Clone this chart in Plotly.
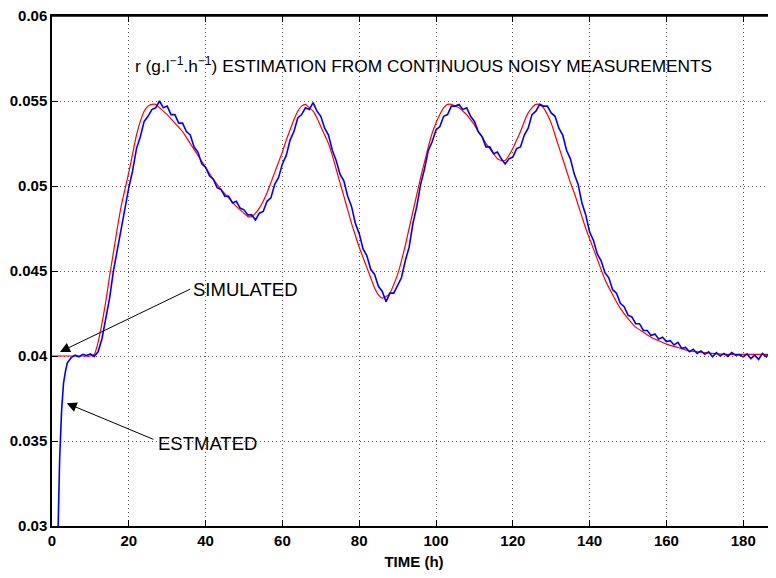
import plotly.graph_objects as go

# ---- data ----
sim_t = [0, 2, 4, 6, 8, 10, 11, 12, 13, 14, 15, 16, 17, 18, 19, 20, 21, 22, 23, 24, 25, 26, 27, 28,
         30, 32, 34, 36, 38, 40, 42, 44, 46, 48, 50, 51, 52, 53, 54, 55, 56, 57, 58, 59, 60, 61, 62,
         63, 64, 65, 66, 67, 68, 69, 70, 71, 72, 73, 74, 75, 76, 77, 78, 79, 80, 81, 82, 83, 84, 85,
         86, 87, 88, 89, 90, 91, 92, 93, 94, 95, 96, 97, 98, 99, 100, 101, 102, 103, 104, 105, 106,
         107, 108, 109, 110, 111, 112, 113, 114, 115, 116, 117, 118, 119, 120, 121, 122, 123, 124,
         125, 126, 127, 128, 129, 130, 131, 132, 133, 134, 135, 136, 137, 138, 139, 140, 142, 144,
         146, 148, 150, 152, 154, 156, 158, 160, 163, 166, 170, 175, 180, 190]
sim_r = [0.0400, 0.0400, 0.0400, 0.0400, 0.0400, 0.0400, 0.0401, 0.0408, 0.0419, 0.0432, 0.0447,
         0.0461, 0.0475, 0.0488, 0.0498, 0.0508, 0.0519, 0.0530, 0.0538, 0.0544, 0.0547, 0.0548,
         0.0548, 0.0546, 0.0542, 0.0537, 0.0532, 0.0525, 0.0518, 0.0511, 0.0504, 0.0498, 0.0493,
         0.0488, 0.0484, 0.0482, 0.0482, 0.0484, 0.0487, 0.0491, 0.0496, 0.0502, 0.0508, 0.0514,
         0.0520, 0.0527, 0.0533, 0.0539, 0.0544, 0.0547, 0.0548, 0.0546, 0.0544, 0.0540, 0.0535,
         0.0530, 0.0525, 0.0518, 0.0510, 0.0502, 0.0494, 0.0486, 0.0478, 0.0471, 0.0464, 0.0458,
         0.0452, 0.0446, 0.0440, 0.0436, 0.0434, 0.0435, 0.0437, 0.0442, 0.0448, 0.0456, 0.0465,
         0.0475, 0.0485, 0.0495, 0.0505, 0.0514, 0.0523, 0.0531, 0.0537, 0.0542, 0.0546, 0.0548,
         0.0548, 0.0547, 0.0546, 0.0544, 0.0542, 0.0539, 0.0536, 0.0532, 0.0529, 0.0525, 0.0522,
         0.0519, 0.0516, 0.0515, 0.0515, 0.0518, 0.0522, 0.0527, 0.0532, 0.0538, 0.0543, 0.0546,
         0.0548, 0.0548, 0.0546, 0.0542, 0.0537, 0.0530, 0.0523, 0.0516, 0.0509, 0.0502, 0.0496,
         0.0489, 0.0482, 0.0475, 0.0469, 0.0457, 0.0445, 0.0436, 0.0428, 0.0422, 0.0417, 0.0414,
         0.0411, 0.0409, 0.0407, 0.0405, 0.0403, 0.0402, 0.0401, 0.0401, 0.0401]

est_t = [1.5, 2, 2.5, 3, 3.5, 4, 5, 6, 7, 8, 9, 10, 11, 12, 13, 14, 15, 16, 17, 18, 19, 20, 21, 22,
         23, 24, 25, 26, 27, 28, 29, 30, 31, 32, 33, 34, 35, 36, 37, 38, 39, 40, 41, 42, 43, 44, 45,
         46, 47, 48, 49, 50, 51, 52, 53, 54, 55, 56, 57, 58, 59, 60, 61, 62, 63, 64, 65, 66, 67, 68,
         69, 70, 71, 72, 73, 74, 75, 76, 77, 78, 79, 80, 81, 82, 83, 84, 85, 86, 87, 88, 89, 90, 91,
         92, 93, 94, 95, 96, 97, 98, 99, 100, 101, 102, 103, 104, 105, 106, 107, 108, 109, 110, 111,
         112, 113, 114, 115, 116, 117, 118, 119, 120, 121, 122, 123, 124, 125, 126, 127, 128, 129,
         130, 131, 132, 133, 134, 135, 136, 137, 138, 139, 140, 141, 142, 143, 144, 145, 146, 147,
         148, 149, 150, 151, 152, 153, 154, 155, 156, 157, 158, 159, 160, 161, 162, 163, 164, 165,
         166, 167, 168, 169, 170, 171, 172, 173, 174, 175, 176, 177, 178, 179, 180, 181, 182, 183,
         184, 185, 186, 187, 188, 189]
est_r = [0.0290, 0.0340, 0.0368, 0.0384, 0.0391, 0.0396, 0.0399, 0.04005, 0.03995, 0.0401, 0.04003,
         0.04012, 0.03998, 0.04025, 0.0410, 0.0421, 0.0434, 0.0450, 0.0462, 0.0476, 0.0486, 0.0499,
         0.0509, 0.0522, 0.0529, 0.0538, 0.0541, 0.0545, 0.0546, 0.0550, 0.0546, 0.0547, 0.0542,
         0.0542, 0.0537, 0.0537, 0.0532, 0.0530, 0.0523, 0.0520, 0.0513, 0.0511, 0.0506, 0.0504,
         0.0499, 0.0498, 0.0494, 0.0494, 0.0490, 0.0491, 0.0487, 0.0486, 0.0483, 0.0483, 0.0480,
         0.0484, 0.0485, 0.0491, 0.0493, 0.0501, 0.0505, 0.0513, 0.0518, 0.0527, 0.0532, 0.0540,
         0.0542, 0.0546, 0.0545, 0.0549, 0.0544, 0.0541, 0.0534, 0.0530, 0.0521, 0.0515, 0.0507,
         0.0503, 0.0494, 0.0488, 0.0478, 0.0472, 0.0463, 0.0459, 0.0451, 0.0448, 0.0441, 0.0438,
         0.0432, 0.0437, 0.0437, 0.0442, 0.0446, 0.0456, 0.0464, 0.0478, 0.0488, 0.0501, 0.0510,
         0.0521, 0.0526, 0.0533, 0.0535, 0.0541, 0.0542, 0.0547, 0.0547, 0.0548, 0.0545, 0.0546,
         0.0541, 0.0538, 0.0532, 0.0529, 0.0523, 0.0523, 0.0519, 0.0520, 0.0516, 0.0513, 0.0516,
         0.0517, 0.0522, 0.0523, 0.0530, 0.0534, 0.0542, 0.0544, 0.0548, 0.0547, 0.0547, 0.0543,
         0.0541, 0.0534, 0.0530, 0.0521, 0.0516, 0.0507, 0.0501, 0.0490, 0.0483, 0.0473, 0.0468,
         0.0460, 0.0456, 0.0449, 0.0446, 0.0439, 0.0437, 0.0431, 0.0429, 0.0424, 0.0423, 0.0419,
         0.0419, 0.0415, 0.0415, 0.0412, 0.0413, 0.0410, 0.0411, 0.04085, 0.0409, 0.04065, 0.0408,
         0.04045, 0.0405, 0.04025, 0.0404, 0.04015, 0.0403, 0.0401, 0.04025, 0.03995, 0.0402, 0.0400,
         0.04015, 0.03998, 0.0402, 0.04005, 0.04008, 0.03995, 0.04012, 0.03985, 0.04005, 0.0398,
         0.04015, 0.03995, 0.0402, 0.04005, 0.0401]

x_ticks = [0, 20, 40, 60, 80, 100, 120, 140, 160, 180]
y_ticks = [0.03, 0.035, 0.04, 0.045, 0.05, 0.055, 0.06]

title_text = "r (g.l<sup>\u22121</sup>.h<sup>\u22121</sup>) ESTIMATION FROM CONTINUOUS NOISY MEASUREMENTS"
label_sim = "SIMULATED"
label_est = "ESTMATED"

TXT_FONT = "Liberation Sans, Arial, Helvetica, sans-serif"
BOLD_FONT = "Liberation Sans, Arial, Helvetica, sans-serif"

fig = go.Figure()
fig.add_trace(go.Scatter(x=sim_t, y=sim_r, mode="lines",
                         line=dict(color="#ff0000", width=1.2, shape="spline", smoothing=0.6),
                         showlegend=False, hoverinfo="skip"))
fig.add_trace(go.Scatter(x=est_t, y=est_r, mode="lines", line=dict(color="#0000ff", width=1.6),
                         showlegend=False, hoverinfo="skip"))

annotations = [
    dict(x=96.7, y=0.05712, xref="x", yref="y", text=title_text, showarrow=False,
         font=dict(family=TXT_FONT, size=17.3, color="#000"), xanchor="center", yanchor="middle"),
    dict(x=36.3, y=0.04394, xref="x", yref="y", text=label_sim, showarrow=False,
         font=dict(family=TXT_FONT, size=18.5, color="#000"), xanchor="left", yanchor="middle"),
    dict(x=27.0, y=0.03488, xref="x", yref="y", text=label_est, showarrow=False,
         font=dict(family=TXT_FONT, size=18.5, color="#000"), xanchor="left", yanchor="middle"),
    dict(x=2.08, y=0.04024, ax=36.4, ay=0.04398, xref="x", yref="y", axref="x", ayref="y",
         text="", showarrow=True, arrowhead=2, arrowsize=2, arrowwidth=1, arrowcolor="#000"),
    dict(x=3.83, y=0.03722, ax=26.8, ay=0.03506, xref="x", yref="y", axref="x", ayref="y",
         text="", showarrow=True, arrowhead=2, arrowsize=2, arrowwidth=1, arrowcolor="#000"),
]

fig.update_layout(
    width=768, height=570,
    margin=dict(l=44, r=0, t=8, b=52),
    paper_bgcolor="white", plot_bgcolor="white",
    annotations=annotations,
    shapes=[dict(type="line", xref="paper", yref="paper", x0=0, x1=1, y0=1, y1=1,
                 line=dict(color="#000", width=1.5), layer="above")],
    xaxis=dict(range=[0, 188.54], tickvals=x_ticks, ticktext=[str(v) for v in x_ticks],
               showgrid=True, gridcolor="#555", griddash="1px,3px", gridwidth=1,
               showline=True, linecolor="#000", linewidth=1.5, mirror="ticks",
               ticks="inside", ticklen=6, tickcolor="#000", tickwidth=1,
               ticklabeloverflow="allow",
               tickfont=dict(family=BOLD_FONT, size=15, color="#000", weight="bold"),
               title=dict(text="TIME (h)", font=dict(family=BOLD_FONT, size=15, color="#000", weight="bold"),
                          standoff=9),
               zeroline=False, automargin=False),
    yaxis=dict(range=[0.03, 0.06], tickvals=y_ticks, ticktext=[str(v) for v in y_ticks],
               showgrid=True, gridcolor="#555", griddash="1px,3px", gridwidth=1,
               showline=True, linecolor="#000", linewidth=1.5, mirror="ticks",
               ticks="inside", ticklen=6, tickcolor="#000", tickwidth=1,
               ticklabeloverflow="allow",
               tickfont=dict(family=BOLD_FONT, size=15, color="#000", weight="bold"),
               zeroline=False, automargin=False),
)

fig.write_html("out.html")
